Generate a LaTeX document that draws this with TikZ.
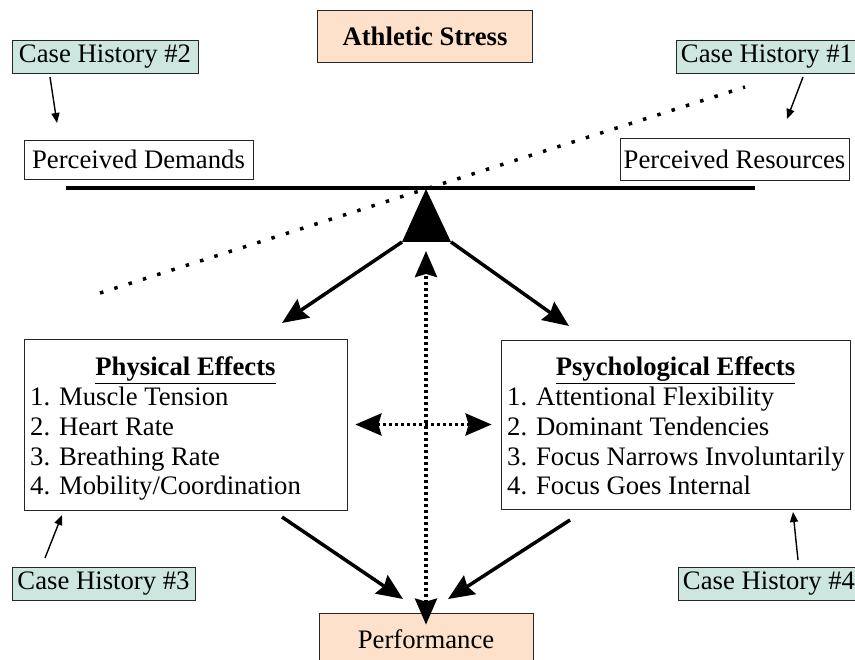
\documentclass[tikz,border=0pt]{standalone}
\usepackage{fontspec}
\setmainfont{Liberation Serif}
\usetikzlibrary{arrows.meta, positioning, calc}
\definecolor{peach}{RGB}{253,225,202}
\definecolor{caseteal}{RGB}{205,231,224}

\tikzset{
  box/.style={draw=black!85, line width=0.8pt, inner sep=3pt},
  casebox/.style={box, fill=caseteal, minimum height=33pt},
  mainbox/.style={box, fill=peach},
  textline/.style={anchor=base west, inner sep=0pt},
  thinarrow/.style={-{Triangle[length=10pt,width=8pt]}, line width=1.4pt},
  bigarrow/.style={-{Stealth[length=26pt,width=22pt,inset=3pt]}, line width=3.5pt},
  dotarrow/.style={{Stealth[length=26pt,width=22pt,inset=3pt]}-{Stealth[length=26pt,width=22pt,inset=3pt]},
    line width=3.5pt, dash pattern=on 3pt off 3pt}
}

\begin{document}
\begin{tikzpicture}[x=1pt, y=-1pt, font=\fontsize{26.7}{30}\selectfont]
    \useasboundingbox (0,0) rectangle (855,660);
    \clip (0,0) rectangle (855,660);

    % Ô trên cùng "Athletic Stress"
    \node[mainbox, minimum width=215pt, minimum height=52pt] (stress) at (425,36) {\textbf{Athletic Stress}};

    % Các ô Case History
    \node[casebox, minimum width=186pt] (case2) at (105,56.5) {Case History \#2};
    \node[casebox, minimum width=182pt] (case1) at (767,56.5) {Case History \#1};
    \node[casebox, minimum width=183pt] (case3) at (103.5,584) {Case History \#3};
    \node[casebox, minimum width=182pt] (case4) at (769,584) {Case History \#4};

    % Hai ô trên đòn cân
    \node[box, minimum width=229pt, minimum height=39pt] (demands) at (138.5,159.5) {Perceived Demands};
    \node[box, minimum width=229pt, minimum height=42pt] (resources) at (734.5,159) {Perceived Resources};

    % Đòn cân, điểm tựa và đường chấm nghiêng
    \coordinate (beamL) at (66,188);
    \coordinate (beamR) at (755,188);
    \coordinate (apex) at (426,189);
    \coordinate (baseL) at (402,242);
    \coordinate (baseR) at (451,242);
    \coordinate (tiltL) at (100,293);
    \coordinate (tiltR) at (745,87);
    \draw[line width=3.5pt, dash pattern=on 3.5pt off 11.5pt] (tiltL) -- (tiltR);
    \draw[line width=4pt] (beamL) -- (beamR);
    \fill (apex) -- (baseL) -- (baseR) -- cycle;

    % Ô Physical Effects
    \node[box, minimum width=323pt, minimum height=171pt] (phys) at (185.5,424.5) {};
    \node[anchor=base, inner sep=0pt] (physTitle) at (185.5,376) {\underline{\textbf{Physical Effects}}};
    \foreach \effect [count=\i] in {Muscle Tension, Heart Rate, Breathing Rate, Mobility/Coordination}
        \node[textline] (phys\i) at (30,376+29.7*\i) {\i. \effect};

    % Ô Psychological Effects
    \node[box, minimum width=349pt, minimum height=169pt] (psych) at (675.5,424.5) {};
    \node[anchor=base, inner sep=0pt] (psychTitle) at (675.5,376) {\underline{\textbf{Psychological Effects}}};
    \foreach \effect [count=\i] in {Attentional Flexibility, Dominant Tendencies, Focus Narrows Involuntarily, Focus Goes Internal}
        \node[textline] (psych\i) at (507,376+29.7*\i) {\i. \effect};

    % Ô dưới cùng "Performance"
    \node[mainbox, minimum width=214pt, minimum height=52pt] (perf) at (426,639) {Performance};

    % Mũi tên mảnh từ các Case History
    \coordinate (case2out) at (50,77);
    \coordinate (demandsIn) at (57,123);
    \draw[thinarrow] (case2out) -- (demandsIn);
    \coordinate (case1out) at (803,77);
    \coordinate (resourcesIn) at (787,119);
    \draw[thinarrow] (case1out) -- (resourcesIn);
    \coordinate (case3out) at (45,558);
    \coordinate (physIn3) at (62,515);
    \draw[thinarrow] (case3out) -- (physIn3);
    \coordinate (case4out) at (798,560);
    \coordinate (psychIn4) at (793,512);
    \draw[thinarrow] (case4out) -- (psychIn4);

    % Mũi tên đậm từ điểm tựa xuống hai ô
    \coordinate (physIn) at (282,323);
    \coordinate (psychIn) at (569,326);
    \draw[bigarrow] (baseL) -- (physIn);
    \draw[bigarrow] (baseR) -- (psychIn);

    % Mũi tên đậm từ hai ô xuống Performance
    \coordinate (physOut) at (282,517);
    \coordinate (perfInL) at (403,599);
    \coordinate (psychOut) at (570,520);
    \coordinate (perfInR) at (448,599);
    \draw[bigarrow] (physOut) -- (perfInL);
    \draw[bigarrow] (psychOut) -- (perfInR);

    % Mũi tên chấm hai chiều
    \coordinate (fulcrumIn) at (426,251);
    \draw[dotarrow] ([yshift=-12pt]perf.north) -- (fulcrumIn);
    \draw[dotarrow] ([xshift=8pt]phys.east) -- ([xshift=-9pt]psych.west);
\end{tikzpicture}
\end{document}
